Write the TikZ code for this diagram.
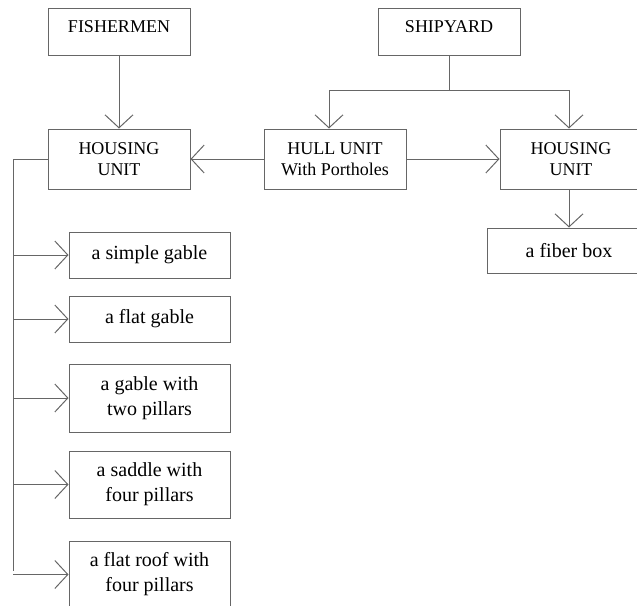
\documentclass[tikz,border=0pt]{standalone}
\usepackage{fontspec}
\setmainfont{Liberation Serif}
\usetikzlibrary{arrows.meta, positioning}

\begin{document}
\begin{tikzpicture}[
	x=1pt, y=-1pt,
	box/.style={draw=black!60, line width=1pt, align=center, inner sep=0pt, font=\fontsize{18}{21}\selectfont},
	topbox/.style={box, minimum width=142, text height=24pt, text depth=23pt},
	optbox/.style={box, minimum width=161, font=\fontsize{20}{25}\selectfont},
	link/.style={draw=black!60, line width=1pt},
	arr/.style={link, -{Straight Barb[length=13pt, width=28pt]}}
]

\useasboundingbox (0,0) rectangle (637,605);

\def\unitwidth{142}
\def\unitheight{60}

% top row
\node[topbox] (fish) at (119, 31.5) {FISHERMEN};
\node[topbox] (ship) at (449, 31.5) {SHIPYARD};

% units
\node[box, minimum width=\unitwidth, minimum height=\unitheight] (houseL) at (119, 159) {HOUSING\\UNIT};
\node[box, minimum width=\unitwidth, minimum height=\unitheight] (hull) at (335, 159) {HULL UNIT\\With Portholes};
\node[box, minimum width=\unitwidth, minimum height=\unitheight] (houseR) at (571, 159) {HOUSING\\UNIT};
\node[optbox, minimum width=164, minimum height=45] (fiber) at (569, 250.5) {a fiber box};

\draw[arr] (fish.south -| houseL.north) -- (houseL.north);

\coordinate (fork) at (ship.south |- 0,90);
\draw[link] (ship.south) -- (fork);
\draw[arr] (fork) -| ([xshift=-6pt]hull.north);
\draw[arr] (fork) -| ([xshift=-2pt]houseR.north);

\draw[arr] (hull.west) -- (houseL.east);
\draw[arr] (hull.east) -- (houseR.west);
\draw[arr] ([xshift=-2pt]houseR.south) -- ([xshift=-2pt]houseR.south |- fiber.north);

% house options
\coordinate (corner) at (13, 159);
\coordinate (trunkend) at (13, 571);
\draw[link] (houseL.west) -- (corner) -- (trunkend);

\foreach \n/\y/\h/\t in {1/255/46/{a simple gable}, 2/319/46/{a flat gable}, 3/398/68/{a gable with\\two pillars}, 4/484.5/67/{a saddle with\\four pillars}, 5/574.5/67/{a flat roof with\\four pillars}} {
	\node[optbox, minimum height=\h] (opt\n) at (149.5, \y) {\t};
	\draw[arr] (corner |- opt\n.west) -- (opt\n.west);
}

\end{tikzpicture}
\end{document}
